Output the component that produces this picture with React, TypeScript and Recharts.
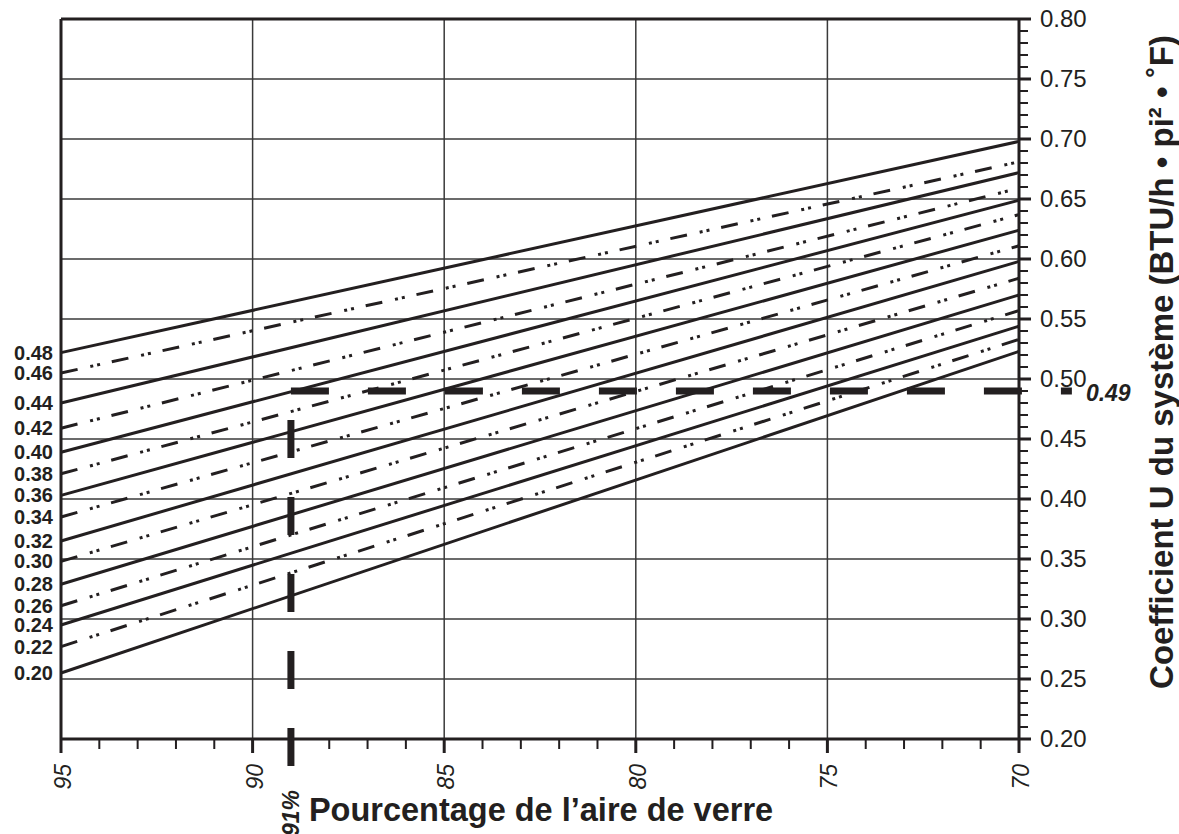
import React from 'react';
import { LineChart, Line, XAxis, YAxis, ReferenceLine } from 'recharts';

const INK = '#231f20';
const GRID = '#3a3a3a';
const FONT = '"Liberation Sans", Arial, Helvetica, sans-serif';

// x positions of the two ends of every curve (percentage of glass area)
const glassPct = [95, 70];
// curve labels (left side) and U values read at each end
const curveLabels = ['0.48', '0.46', '0.44', '0.42', '0.40', '0.38', '0.36', '0.34', '0.32', '0.30', '0.28', '0.26', '0.24', '0.22', '0.20'];
const uAt95 = [0.522, 0.505, 0.480, 0.459, 0.439, 0.421, 0.403, 0.385, 0.365, 0.348, 0.329, 0.311, 0.295, 0.277, 0.255];
const uAt70 = [0.698, 0.681, 0.672, 0.659, 0.649, 0.637, 0.624, 0.611, 0.598, 0.584, 0.570, 0.557, 0.544, 0.533, 0.523];

// axis ticks
const xMajorTicks = [95, 90, 85, 80, 75, 70];
const yMajorTicks = [0.2, 0.25, 0.3, 0.35, 0.4, 0.45, 0.5, 0.55, 0.6, 0.65, 0.7, 0.75, 0.8];
const xMinorStep = 1;
const yMinorStep = 0.01;
const gridX = [90, 85, 80, 75];
const gridY = [0.25, 0.3, 0.35, 0.4, 0.45, 0.5, 0.55, 0.6, 0.65, 0.7, 0.75];

// example read-off marker (drawn where the reference draws it)
const markerPct = 89;
const markerPctLabel = '91%';
const markerU = 0.49;
const markerULabel = '0.49';
const markerLineEndPct = 68.62;
const markerLineBottomU = 0.1775;

const xTicks: number[] = [];
for (let v = 70; v <= 95; v += xMinorStep) xTicks.push(v);
const yTicks: number[] = [];
for (let i = 0; i <= Math.round((0.8 - 0.2) / yMinorStep); i++) yTicks.push(Math.round((0.2 + i * yMinorStep) * 100) / 100);

const data = glassPct.map((x, i) => {
  const row: any = { x };
  curveLabels.forEach((_, k) => {
    row['c' + k] = (i === 0 ? uAt95 : uAt70)[k];
  });
  return row;
});

const XTick = (props: any) => {
  const { x, y, payload } = props;
  const v = payload.value;
  const major = xMajorTicks.includes(v);
  return (
    <g>
      <line x1={x} x2={x} y1={y} y2={y + (major ? 14 : 10)} stroke={INK} strokeWidth={major ? 3 : 2} />
      {major && (
        <text
          transform={`translate(${x + 10},${y + 25}) rotate(-90)`}
          textAnchor="end"
          fontFamily={FONT}
          fontStyle="italic"
          fontSize={23}
          fill={INK}
        >
          {v}
        </text>
      )}
    </g>
  );
};

const YTick = (props: any) => {
  const { x, y, payload } = props;
  const v = payload.value;
  const major = yMajorTicks.some((m) => Math.abs(m - v) < 1e-6);
  return (
    <g>
      <line x1={x} x2={x + (major ? 12 : 9)} y1={y} y2={y} stroke={INK} strokeWidth={major ? 3 : 2} />
      {major && (
        <text x={x + 21} y={y + 8} fontFamily={FONT} fontSize={24} fill={INK}>
          {v.toFixed(2)}
        </text>
      )}
    </g>
  );
};

const pt = (p: any) => {
  const vb = p.viewBox || {};
  return { x: vb.x ?? p.x, y: vb.y ?? p.y };
};

export default function App() {
  return (
    <div style={{ position: 'absolute', left: 0, top: 0, width: 1179, height: 834, background: '#fff', fontFamily: FONT }}>
      <LineChart width={1179} height={834} data={data} margin={{ top: 19, right: 0, bottom: 0, left: 61 }}>
        <XAxis
          dataKey="x"
          type="number"
          domain={[70, 95]}
          reversed
          ticks={xTicks}
          interval={0}
          tickSize={0}
          tickMargin={0}
          tickLine={false}
          tick={<XTick />}
          height={95}
          axisLine={{ stroke: INK, strokeWidth: 3 }}
          label={(p: any) => {
            const vb = p.viewBox;
            return (
              <text
                x={vb.x + vb.width / 2 + 1}
                y={vb.y + 82}
                textAnchor="middle"
                fontFamily={FONT}
                fontWeight="bold"
                fontSize={32.5}
                fill={INK}
              >
                Pourcentage de l’aire de verre
              </text>
            );
          }}
        />
        <YAxis
          type="number"
          orientation="right"
          domain={[0.2, 0.8]}
          ticks={yTicks}
          interval={0}
          tickSize={0}
          tickMargin={0}
          tickLine={false}
          tick={<YTick />}
          width={160}
          axisLine={{ stroke: INK, strokeWidth: 3 }}
          label={(p: any) => {
            const vb = p.viewBox;
            const cx = vb.x + 154;
            const cy = vb.y + vb.height / 2 - 17;
            return (
              <text
                x={cx}
                y={cy}
                transform={`rotate(-90, ${cx}, ${cy})`}
                textAnchor="middle"
                fontFamily={FONT}
                fontWeight="bold"
                fontSize={33}
                fill={INK}
              >
                Coefficient U du système (BTU/h • pi² • ˚F)
              </text>
            );
          }}
        />
        {gridY.map((v) => (
          <ReferenceLine key={'gy' + v} y={v} stroke={GRID} strokeWidth={1.5} />
        ))}
        {gridX.map((v) => (
          <ReferenceLine key={'gx' + v} x={v} stroke={GRID} strokeWidth={1.5} />
        ))}
        <ReferenceLine x={95} stroke={INK} strokeWidth={3} />
        <ReferenceLine y={0.8} stroke={INK} strokeWidth={3} />
        {curveLabels.map((lab, k) => (
          <Line
            key={lab}
            dataKey={'c' + k}
            type="linear"
            stroke={INK}
            strokeWidth={3}
            strokeDasharray={k % 2 === 1 ? '17 13 3 4 3 12' : undefined}
            dot={false}
            activeDot={false}
            isAnimationActive={false}
            label={(p: any) => {
              if (p.index !== 0) return null;
              const { x, y } = pt(p);
              return (
                <text x={x - 8} y={y + 7} textAnchor="end" fontFamily={FONT} fontWeight="bold" fontSize={20} fill={INK}>
                  {lab}
                </text>
              );
            }}
          />
        ))}
        <ReferenceLine
          segment={[
            { x: markerPct, y: markerU },
            { x: markerLineEndPct, y: markerU },
          ]}
          ifOverflow="visible"
          stroke={INK}
          strokeWidth={7}
          strokeDasharray="38 39"
          label={(p: any) => {
            const vb = p.viewBox;
            return (
              <text
                x={vb.x + vb.width + 14}
                y={vb.y + 10}
                fontFamily={FONT}
                fontWeight="bold"
                fontStyle="italic"
                fontSize={23}
                fill={INK}
              >
                {markerULabel}
              </text>
            );
          }}
        />
        <ReferenceLine
          segment={[
            { x: markerPct, y: markerLineBottomU },
            { x: markerPct, y: markerU },
          ]}
          ifOverflow="visible"
          stroke={INK}
          strokeWidth={7}
          strokeDasharray="38 39"
          label={(p: any) => {
            const vb = p.viewBox;
            const ax = vb.x + 8;
            const ay = vb.y + vb.height + 24;
            return (
              <text
                transform={`translate(${ax},${ay}) rotate(-90)`}
                textAnchor="end"
                fontFamily={FONT}
                fontWeight="bold"
                fontStyle="italic"
                fontSize={23}
                fill={INK}
              >
                {markerPctLabel}
              </text>
            );
          }}
        />
      </LineChart>
    </div>
  );
}
